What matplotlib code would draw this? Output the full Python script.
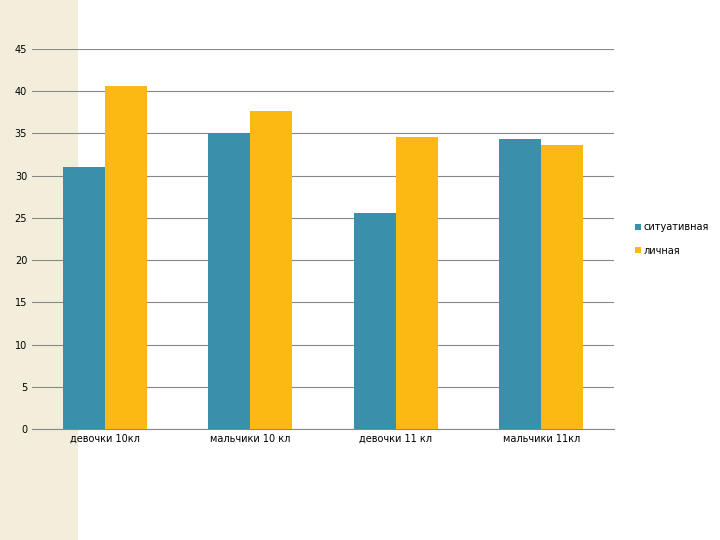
import matplotlib
matplotlib.use("Agg")
import matplotlib.pyplot as plt
import numpy as np
from matplotlib.patches import Rectangle

categories = ["девочки 10кл", "мальчики 10 кл", "девочки 11 кл", "мальчики 11кл"]
series_names = ["ситуативная", "личная"]
situative = [31.0, 35.1, 25.6, 34.4]
personal = [40.6, 37.6, 34.6, 33.6]
colors = ["#3A8FAA", "#FDB913"]

fig = plt.figure(figsize=(7.2, 5.4), dpi=100)
fig.patches.append(Rectangle((0, 0), 78/720, 1, transform=fig.transFigure,
                             facecolor="#F3EEDC", edgecolor="none", zorder=-5))
ax = fig.add_axes([32/720, 1-429/540, (614-32)/720, (429-49)/540])
ax.patch.set_alpha(0)
x = np.arange(len(categories))
w = 0.29
ax.bar(x - w/2, situative, w, color=colors[0], label=series_names[0], zorder=3)
ax.bar(x + w/2, personal, w, color=colors[1], label=series_names[1], zorder=3)
ax.set_xlim(-0.5, 3.5)
ax.set_ylim(0, 45)
ax.set_yticks(range(0, 46, 5))
ax.yaxis.grid(True, color="#888888", linewidth=0.8, zorder=0)
ax.set_xticks(x)
ax.set_xticklabels(categories)
ax.tick_params(labelsize=7, length=0)
for s in ["top", "right", "left"]:
    ax.spines[s].set_visible(False)
ax.spines["bottom"].set_color("#888888")
ax.legend(loc="center left", bbox_to_anchor=(1.03, 0.5), frameon=False,
          fontsize=7, handlelength=0.6, handleheight=0.6, handletextpad=0.2,
          labelspacing=1.4, borderaxespad=0)
fig.savefig("out.png", dpi=100)
